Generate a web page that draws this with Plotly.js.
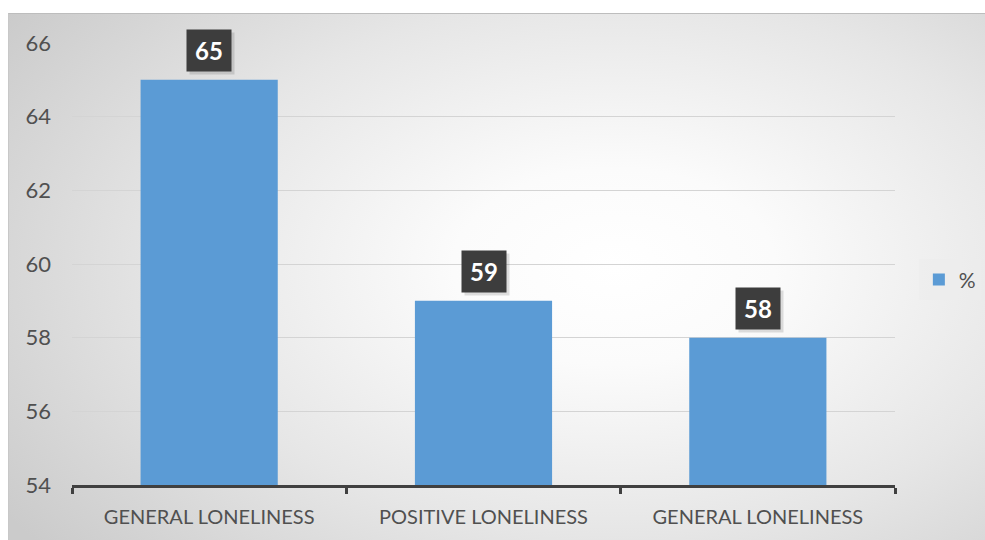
<!DOCTYPE html>
<html>
<head>
<meta charset="utf-8">
<script src="https://cdn.plot.ly/plotly-3.0.1.min.js"></script>
<style>
  html, body { margin: 0; padding: 0; background: #ffffff; }
  #bg { position: absolute; left: 8px; top: 13px; width: 977px; height: 527px;
        background: radial-gradient(ellipse 75% 85% at 62% 48%, #ffffff 0%, #fbfbfb 22%, #e6e6e6 60%, #cbcbcb 100%);
        border-top: 1px solid #bdbdbd; border-left: 1px solid #c8c8c8; box-sizing: border-box; }
  #chart { position: absolute; left: 0; top: 0; width: 985px; height: 540px; }
</style>
</head>
<body>
<div id="bg"></div>
<div id="chart"></div>
<script>
const categories = ["GENERAL LONELINESS", "POSITIVE LONELINESS", "GENERAL LONELINESS"];
const values = [65, 59, 58];
const seriesName = "%";
const yTicks = [54, 56, 58, 60, 62, 64, 66];

const keys = categories.map((c, i) => "c" + i);

const trace = {
  type: "bar",
  x: keys,
  y: values,
  name: seriesName,
  marker: { color: "#5b9bd5" },
  showlegend: true,
  hoverinfo: "none"
};

const shadows = keys.map((k, i) => ({
  x: k, y: values[i], xref: "x", yref: "y",
  text: "", showarrow: false, yanchor: "bottom",
  yshift: 5, xshift: 3,
  width: 44, height: 41, borderpad: 0,
  bgcolor: "rgba(0,0,0,0.12)"
}));

const labels = keys.map((k, i) => ({
  x: k, y: values[i], xref: "x", yref: "y",
  text: "<b>" + values[i] + "</b>", showarrow: false, yanchor: "bottom",
  yshift: 8,
  width: 44, height: 41, borderpad: 0,
  bgcolor: "#3d3d3d",
  font: { family: "Lato, sans-serif", size: 24, color: "#ffffff" }
}));

const layout = {
  width: 985, height: 540,
  margin: { l: 72, r: 90, t: 43, b: 55, autoexpand: false },
  paper_bgcolor: "rgba(0,0,0,0)",
  plot_bgcolor: "rgba(0,0,0,0)",
  bargap: 0.5,
  font: { family: "Lato, sans-serif", color: "#595959" },
  xaxis: {
    type: "category",
    tickmode: "array", tickvals: keys, ticktext: categories,
    tickson: "boundaries",
    ticks: "outside", ticklen: 6, tickwidth: 3, tickcolor: "#404040",
    showline: true, linecolor: "#404040", linewidth: 3,
    showgrid: false, zeroline: false,
    ticklabelstandoff: 12,
    tickfont: { family: "Lato, sans-serif", size: 20, color: "#505050" },
    fixedrange: true
  },
  yaxis: {
    range: [54, 66],
    tickmode: "array", tickvals: yTicks,
    showgrid: true, gridcolor: "#d4d4d4", gridwidth: 1,
    showline: false, zeroline: false, ticks: "",
    ticklabelstandoff: 20,
    tickfont: { family: "Lato, sans-serif", size: 22, color: "#505050" },
    fixedrange: true
  },
  legend: {
    x: 1.029, xanchor: "left", y: 0.464, yanchor: "middle",
    bgcolor: "rgba(236,236,236,0.7)",
    font: { family: "Lato, sans-serif", size: 21, color: "#505050" },
    itemwidth: 30,
    borderwidth: 0
  },
  annotations: shadows.concat(labels)
};

Plotly.newPlot("chart", [trace], layout, { displayModeBar: false, staticPlot: true });
</script>
</body>
</html>
